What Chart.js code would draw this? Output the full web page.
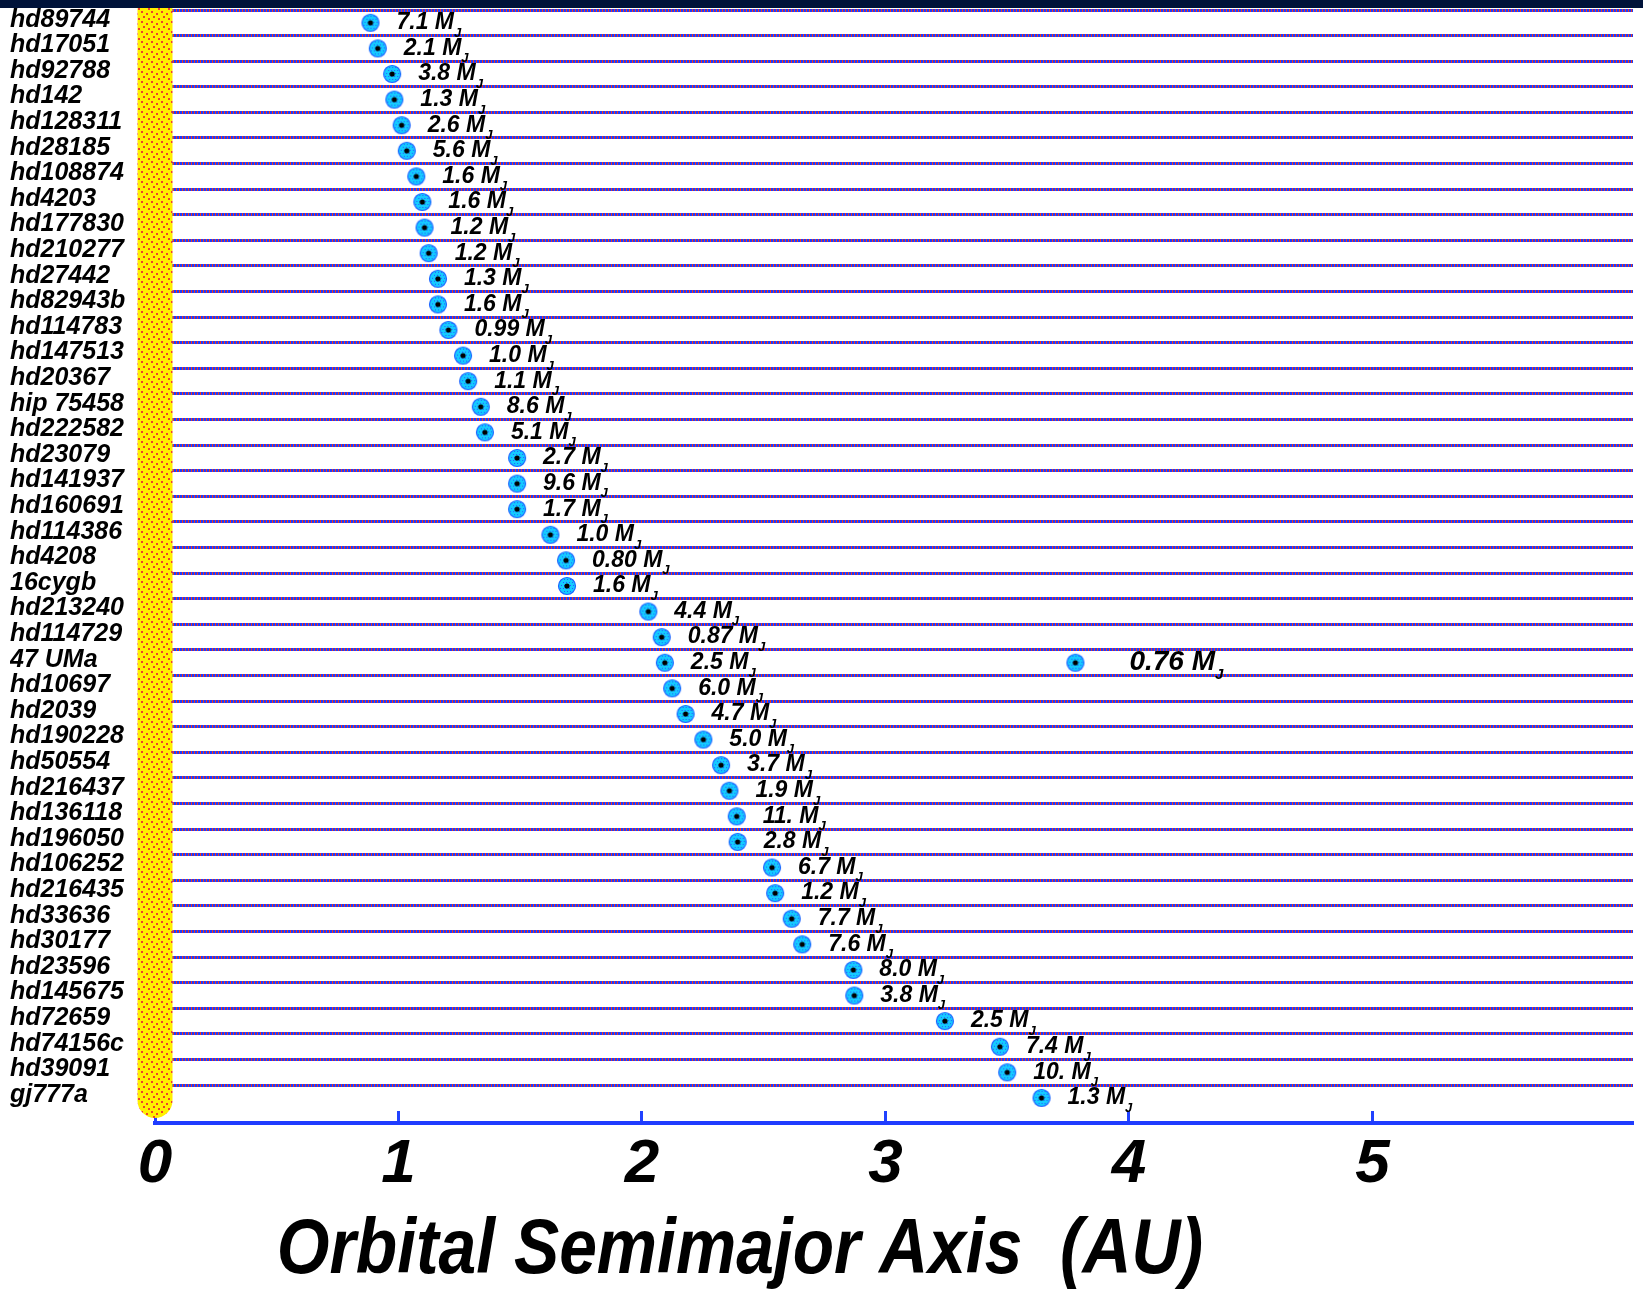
<!DOCTYPE html>
<html>
<head>
<meta charset="utf-8">
<script src="https://cdn.jsdelivr.net/npm/chart.js@4/dist/chart.umd.min.js"></script>
<style>
  body { margin: 0; background: #fff; }
  #wrap { position: relative; width: 1643px; height: 1295px; }
  #topbar { position: absolute; left: 0; top: 0; width: 1643px; height: 8px; background: #00133a; z-index: 2; }
</style>
</head>
<body>
<div id="wrap">
  <div id="topbar"></div>
  <canvas id="orbits"></canvas>
</div>
<script>
// stars, top to bottom
const stars = ["hd89744", "hd17051", "hd92788", "hd142", "hd128311", "hd28185", "hd108874",
  "hd4203", "hd177830", "hd210277", "hd27442", "hd82943b", "hd114783", "hd147513", "hd20367",
  "hip 75458", "hd222582", "hd23079", "hd141937", "hd160691", "hd114386", "hd4208", "16cygb",
  "hd213240", "hd114729", "47 UMa", "hd10697", "hd2039", "hd190228", "hd50554", "hd216437",
  "hd136118", "hd196050", "hd106252", "hd216435", "hd33636", "hd30177", "hd23596", "hd145675",
  "hd72659", "hd74156c", "hd39091", "gj777a"];

// semimajor axis (AU)
const semiMajor = [0.885, 0.915, 0.974, 0.983, 1.013, 1.034, 1.073, 1.098, 1.107, 1.124, 1.162,
  1.162, 1.205, 1.265, 1.286, 1.338, 1.355, 1.487, 1.487, 1.487, 1.624, 1.688, 1.692, 2.026,
  2.081, 2.094, 2.124, 2.179, 2.252, 2.325, 2.359, 2.389, 2.393, 2.534, 2.547, 2.615, 2.658,
  2.868, 2.872, 3.244, 3.47, 3.5, 3.641];

// minimum mass (Jupiter masses)
const masses = [7.1, 2.1, 3.8, 1.3, 2.6, 5.6, 1.6, 1.6, 1.2, 1.2, 1.3, 1.6, 0.99, 1.0, 1.1,
  8.6, 5.1, 2.7, 9.6, 1.7, 1.0, 0.80, 1.6, 4.4, 0.87, 2.5, 6.0, 4.7, 5.0, 3.7, 1.9, 11, 2.8,
  6.7, 1.2, 7.7, 7.6, 8.0, 3.8, 2.5, 7.4, 10, 1.3];

// second planet of 47 UMa
const outerStars = ["47 UMa"];
const outerAxis = [3.78];
const outerMasses = [0.76];

const xTicks = [0, 1, 2, 3, 4, 5];
const axisTitle = "Orbital Semimajor Axis  (AU)";

function fmtMass(m) {
  if (m >= 10) return m + ".";
  return m < 1 ? m.toFixed(2) : m.toFixed(1);
}

function makePattern(w, h, paint) {
  const c = document.createElement("canvas");
  c.width = w; c.height = h;
  paint(c.getContext("2d"));
  return document.createElement("canvas").getContext("2d").createPattern(c, "repeat");
}

// blue rule with red specks
const rulePattern = makePattern(3, 1, g => {
  g.fillStyle = "#1c3cff"; g.fillRect(0, 0, 3, 1);
  g.fillStyle = "#f03a22"; g.fillRect(2, 0, 1, 1);
});
// the sun: yellow with red dots
const sunPattern = makePattern(10, 10, g => {
  g.fillStyle = "#fff000"; g.fillRect(0, 0, 10, 10);
  g.fillStyle = "#f0402a";
  [[1, 1], [6, 3], [3, 6], [8, 8]].forEach(p => g.fillRect(p[0], p[1], 2, 2));
});

function makeMarker() {
  const c = document.createElement("canvas");
  c.width = 20; c.height = 20;
  const g = c.getContext("2d");
  g.fillStyle = "#14ccff";
  g.beginPath(); g.arc(10, 10, 8.5, 0, Math.PI * 2); g.fill();
  g.strokeStyle = "#1e64ff"; g.lineWidth = 1.2; g.stroke();
  g.fillStyle = "#2a58ff";
  for (let y = 3; y < 18; y += 3) {
    for (let x = 3 + (y % 2); x < 18; x += 3) {
      if ((x - 10) ** 2 + (y - 10) ** 2 < 60) g.fillRect(x, y, 1, 1);
    }
  }
  g.fillStyle = "#000";
  g.beginPath(); g.arc(10, 10, 2.6, 0, Math.PI * 2); g.fill();
  return c;
}
const marker = makeMarker();

const font = { family: "'Liberation Sans', Arial, sans-serif", style: "italic", weight: "bold" };

const massLabels = {
  id: "massLabels",
  afterDatasetsDraw(chart) {
    const ctx = chart.ctx;
    chart.data.datasets.forEach((ds, di) => {
      if (!ds.masses) return;
      chart.getDatasetMeta(di).data.forEach((pt, i) => {
        const size = ds.labelSize;
        const s = fmtMass(ds.masses[i]) + " M";
        ctx.save();
        ctx.fillStyle = "#000";
        ctx.textBaseline = "middle";
        ctx.font = `italic bold ${size}px ${font.family}`;
        let x = pt.x + ds.labelGap;
        ctx.fillText(s, x, pt.y);
        x += ctx.measureText(s).width;
        ctx.font = `italic bold ${Math.round(size * 0.55)}px ${font.family}`;
        ctx.fillText("J", x, pt.y + size * 0.45);
        ctx.restore();
      });
    });
  }
};

const axisCaption = {
  id: "axisCaption",
  afterDraw(chart) {
    const xs = chart.scales.x;
    const ctx = chart.ctx;
    ctx.save();
    ctx.fillStyle = "#000";
    ctx.font = `italic bold 77px ${font.family}`;
    ctx.textBaseline = "alphabetic";
    ctx.translate(xs.getPixelForValue(0.5), xs.bottom - 22);
    ctx.scale(0.88, 1);
    ctx.fillText(axisTitle, 0, 0);
    ctx.restore();
  }
};

const ctx1 = document.getElementById("orbits").getContext("2d");
const orbits = new Chart(ctx1, {
  type: "scatter",
  data: {
    datasets: [
      {
        label: "planets",
        data: semiMajor.map((a, i) => ({ x: a, y: i })),
        masses: masses,
        labelSize: 23,
        labelGap: 26,
        pointStyle: marker,
        pointRadius: 9,
        order: 1,
      },
      {
        label: "outer planets",
        data: outerAxis.map((a, i) => ({ x: a, y: stars.indexOf(outerStars[i]) })),
        masses: outerMasses,
        labelSize: 28,
        labelGap: 54,
        pointStyle: marker,
        pointRadius: 9,
        order: 1,
      },
      {
        // the sun at 0 AU
        type: "line",
        label: "sun",
        data: [{ x: 0, y: -0.5 }, { x: 0, y: 42.1 }],
        borderColor: sunPattern,
        borderWidth: 35,
        borderCapStyle: "round",
        pointRadius: 0,
        clip: false,
        order: 5,
      },
    ],
  },
  options: {
    responsive: true,
    maintainAspectRatio: false,
    animation: false,
    layout: { padding: { left: 10, top: 9, right: 0, bottom: 0 } },
    plugins: {
      legend: { display: false },
      tooltip: { enabled: false },
    },
    scales: {
      x: {
        type: "linear",
        min: 0,
        max: 6.07,
        afterBuildTicks: s => { s.ticks = xTicks.map(v => ({ value: v })); },
        afterFit: s => { s.height = 172; },
        grid: { drawOnChartArea: false, drawTicks: true, tickLength: -12, tickWidth: 3, tickColor: "#2142ff" },
        border: { color: "#1f3cff", width: 4 },
        ticks: { padding: 17, color: "#000", font: { ...font, size: 62 } },
      },
      y: {
        type: "linear",
        reverse: true,
        min: -0.5,
        max: 42.98,
        afterBuildTicks: s => { s.ticks = stars.map((_, i) => ({ value: i })); },
        afterFit: s => { s.width = 145; s.paddingTop = 0; s.paddingBottom = 0; },
        grid: {
          offset: true,
          drawTicks: false,
          lineWidth: 3,
          // no rule under the last star
          color: c => (c.type === "tick" ? rulePattern : "rgba(0,0,0,0)"),
        },
        border: { display: false },
        ticks: {
          autoSkip: false,
          crossAlign: "far",
          labelOffset: -3,
          color: "#000",
          font: { ...font, size: 25, lineHeight: 1 },
          callback: (v, i) => stars[i],
        },
      },
    },
  },
  plugins: [massLabels, axisCaption],
});
</script>
</body>
</html>
